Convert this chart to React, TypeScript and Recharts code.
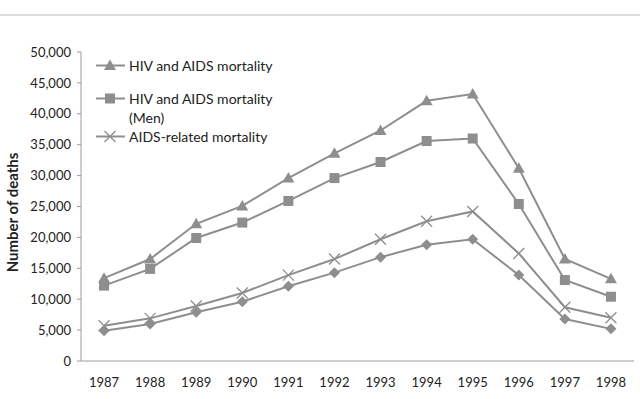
import React from 'react';
import { LineChart, Line, XAxis, YAxis, Legend, Label } from 'recharts';

const years = [1987, 1988, 1989, 1990, 1991, 1992, 1993, 1994, 1995, 1996, 1997, 1998];
const hivAids = [13400, 16500, 22200, 25100, 29600, 33600, 37300, 42100, 43200, 31200, 16500, 13300];
const hivAidsMen = [12200, 14900, 19900, 22400, 25900, 29600, 32200, 35600, 36000, 25400, 13100, 10400];
const aidsRelated = [5700, 6900, 8900, 11000, 13900, 16500, 19700, 22600, 24200, 17400, 8700, 7000];
const otherSeries = [4900, 6000, 7900, 9600, 12100, 14300, 16800, 18800, 19700, 13900, 6800, 5200];
const yTicks = [0, 5000, 10000, 15000, 20000, 25000, 30000, 35000, 40000, 45000, 50000];

const GREY = '#8e8e8e';
const FONT = 'Lato, "DejaVu Sans", sans-serif';

const data = years.map((year, i) => ({
    x: i + 0.5,
    year,
    hiv: hivAids[i],
    men: hivAidsMen[i],
    related: aidsRelated[i],
    other: otherSeries[i],
}));

// marker shapes, drawn around (cx, cy)
const Triangle = ({ cx, cy }: any) => (
    <path d={`M${cx},${cy - 6} L${cx + 6},${cy + 4.5} L${cx - 6},${cy + 4.5} Z`} fill={GREY} />
);
const Square = ({ cx, cy }: any) => <rect x={cx - 5} y={cy - 5} width={10} height={10} fill={GREY} />;
const Cross = ({ cx, cy }: any) => (
    <path d={`M${cx - 5.5},${cy - 5.5} L${cx + 5.5},${cy + 5.5} M${cx + 5.5},${cy - 5.5} L${cx - 5.5},${cy + 5.5}`} stroke={GREY} strokeWidth={1.3} fill="none" />
);
const Diamond = ({ cx, cy }: any) => (
    <path d={`M${cx},${cy - 5.5} L${cx + 5.5},${cy} L${cx},${cy + 5.5} L${cx - 5.5},${cy} Z`} fill={GREY} />
);

const legendItems = [
    { label: ['HIV and AIDS mortality'], Marker: Triangle, gap: 14 },
    { label: ['HIV and AIDS mortality', '(Men)'], Marker: Square, gap: 0 },
    { label: ['AIDS-related mortality'], Marker: Cross, gap: 0 },
];

const LegendBox = () => (
    <div style={{ fontFamily: FONT, fontSize: 14, color: '#222' }}>
        {legendItems.map((item, i) => (
            <div key={i} style={{ display: 'flex', alignItems: 'flex-start', marginBottom: item.gap }}>
                <svg width={32} height={19} style={{ flexShrink: 0 }}>
                    <line x1={1} y1={9.5} x2={30} y2={9.5} stroke={GREY} strokeWidth={2} />
                    <item.Marker cx={15} cy={9.5} />
                </svg>
                <div style={{ lineHeight: '19px', marginLeft: 2 }}>
                    {item.label.map((l, j) => (
                        <div key={j}>{l}</div>
                    ))}
                </div>
            </div>
        ))}
    </div>
);

const YLabel = ({ viewBox }: any) => {
    const cy = viewBox.y + viewBox.height / 2 + 6;
    return (
        <text x={14} y={cy} transform={`rotate(-90, 14, ${cy})`} textAnchor="middle" dominantBaseline="middle"
            fontFamily={FONT} fontSize={15} fontWeight="bold" fill="#222">
            Number of deaths
        </text>
    );
};

export default function App() {
    return (
        <div style={{ position: 'absolute', left: 0, top: 0, width: 640, height: 399, background: '#fff' }}>
            <div style={{ position: 'absolute', left: 0, right: 0, top: 14, height: 2, background: '#dcdcdc' }} />
            <LineChart width={640} height={399} data={data} margin={{ top: 52, right: 6, left: 0, bottom: 0 }}>
                <XAxis xAxisId="grid" type="number" domain={[0, 12]} ticks={[0, 1, 2, 3, 4, 5, 6, 7, 8, 9, 10, 11, 12]}
                    height={6} tickSize={5} tick={false} stroke="#9a9a9a" allowDataOverflow />
                <XAxis xAxisId="yr" type="number" dataKey="x" domain={[0, 12]} ticks={data.map(d => d.x)}
                    tickFormatter={(v: number) => String(years[Math.floor(v)])} height={32} tickSize={0} tickMargin={11}
                    axisLine={false} tickLine={false} interval={0}
                    tick={{ fontFamily: FONT, fontSize: 13, fill: '#222' }} />
                <YAxis domain={[0, 50000]} ticks={yTicks} width={81} tickSize={4} tickMargin={6} stroke="#9a9a9a"
                    interval={0} tickFormatter={(v: number) => v.toLocaleString('en-US')}
                    tick={{ fontFamily: FONT, fontSize: 13, fill: '#222' }}>
                    <Label content={<YLabel />} />
                </YAxis>
                <Legend layout="horizontal" verticalAlign="middle" align="center" content={<LegendBox />}
                    wrapperStyle={{ left: 95, top: 56, width: 230 }} />
                <Line xAxisId="yr" dataKey="hiv" stroke={GREY} strokeWidth={2} dot={<Triangle />} isAnimationActive={false} />
                <Line xAxisId="yr" dataKey="men" stroke={GREY} strokeWidth={2} dot={<Square />} isAnimationActive={false} />
                <Line xAxisId="yr" dataKey="related" stroke={GREY} strokeWidth={2} dot={<Cross />} isAnimationActive={false} />
                <Line xAxisId="yr" dataKey="other" stroke={GREY} strokeWidth={2} dot={<Diamond />} isAnimationActive={false} />
            </LineChart>
        </div>
    );
}
